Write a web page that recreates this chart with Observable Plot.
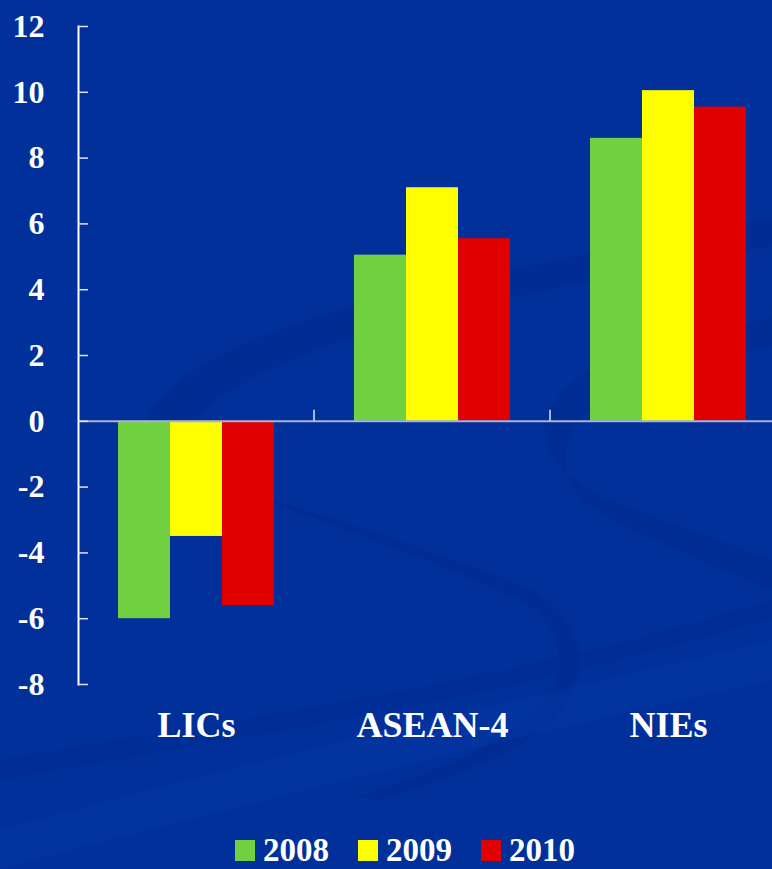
<!DOCTYPE html>
<html>
<head>
<meta charset="utf-8">
<script src="https://cdn.jsdelivr.net/npm/d3@7"></script>
<script src="https://cdn.jsdelivr.net/npm/@observablehq/plot@0.6"></script>
<style>
  html, body { margin: 0; padding: 0; background: #01309b; overflow: hidden; }
  #page { position: relative; width: 772px; height: 869px; overflow: hidden; background: #01309b; }
  #bg, #chart { position: absolute; left: 0; top: 0; }
  #legend {
    position: absolute; left: 235px; top: 834px;
    display: flex; align-items: center;
    font-family: "Liberation Serif", "Times New Roman", serif;
    font-weight: bold; font-size: 33px; color: #fff; line-height: 33px;
  }
  #legend .item { display: flex; align-items: center; margin-right: 29px; }
  #legend .swatch { width: 20px; height: 21px; margin-right: 8px; }
</style>
</head>
<body>
<div id="page">
  <svg id="bg" width="772" height="869" viewBox="0 0 772 869">
    <!-- faint backdrop swooshes -->
    <path d="M140 440 C150 375 250 330 410 292 C520 266 640 244 772 218 L772 246 C640 270 510 296 410 322 C290 352 205 392 182 440 Z" fill="#002a8e" opacity="0.55"/>
    <path d="M772 318 C690 335 610 352 578 378 C540 405 536 440 560 468 C580 488 605 500 640 512 L772 560 L772 590 C700 560 640 535 600 512 C570 495 560 470 568 440 C578 405 640 375 772 345 Z" fill="#002a8e" opacity="0.5"/>
    <path d="M262 496 C360 528 460 560 528 588 C580 615 590 660 568 700 C540 745 470 772 380 800 L360 796 C445 768 520 738 548 696 C570 660 560 622 520 600 C450 568 360 534 262 500 Z" fill="#002a8e" opacity="0.55"/>
    <path d="M0 830 C250 760 520 700 772 640 L772 680 C520 735 260 800 0 869 Z" fill="#0a3aa6" opacity="0.35"/>
    <path d="M0 760 C220 720 480 690 772 600 L772 618 C480 705 230 738 0 780 Z" fill="#002a8e" opacity="0.3"/>
  </svg>
  <div id="chart"></div>
  <div id="legend"></div>
</div>
<script>
// Regions shown on the horizontal axis
const categories = ["LICs", "ASEAN-4", "NIEs"];
// One series per year
const years = ["2008", "2009", "2010"];
const values2008 = [-6.0, 5.05, 8.6];
const values2009 = [-3.5, 7.1, 10.05];
const values2010 = [-5.6, 5.55, 9.55];
const yearColors = ["#70d03f", "#ffff00", "#e00000"];
const yTicks = [-8, -6, -4, -2, 0, 2, 4, 6, 8, 10, 12];

const series = [values2008, values2009, values2010];
const rows = categories.flatMap((category, i) =>
  years.map((year, j) => ({category, year, value: series[j][i]}))
);

const chart = Plot.plot({
  width: 786,
  height: 800,
  marginLeft: 77,
  marginRight: 0,
  marginTop: 26,
  marginBottom: 116,
  style: {
    background: "transparent",
    color: "#ffffff",
    fontFamily: "'Liberation Serif', 'Times New Roman', serif",
    overflow: "visible",
    maxWidth: "none"
  },
  fx: {domain: categories, padding: 0, label: null},
  x: {domain: years, paddingInner: 0, paddingOuter: 0.75, axis: null},
  y: {domain: [-8, 12], label: null},
  color: {domain: years, range: yearColors},
  marks: [
    Plot.barY(rows, {fx: "category", x: "year", y: "value", fill: "year"}),
    Plot.ruleY([0], {stroke: "#a9b3d6", strokeWidth: 2}),
    Plot.frame({anchor: "left", facetAnchor: "left", stroke: "#ffffff", strokeWidth: 2}),
    Plot.axisY({
      ticks: yTicks,
      tickSize: -10,
      tickPadding: 44,
      tickFormat: d => String(d),
      fontSize: 32,
      fontWeight: "bold",
      stroke: "#dde3f3",
      strokeWidth: 1.5,
      label: null
    }),
    Plot.axisFx({
      anchor: "bottom",
      tickSize: 0,
      tickPadding: 27,
      fontSize: 36,
      fontWeight: "bold",
      label: null
    })
  ]
});

// Short ticks on the zero line at the boundaries between region groups
const fxScale = chart.scale("fx");
const yScale = chart.scale("y");
d3.select(chart).append("g")
  .attr("stroke", "#dde3f3")
  .attr("stroke-width", 1.5)
  .selectAll("line")
  .data(categories.slice(1))
  .join("line")
  .attr("x1", d => fxScale.apply(d))
  .attr("x2", d => fxScale.apply(d))
  .attr("y1", yScale.apply(0))
  .attr("y2", yScale.apply(0) - 11);

document.getElementById("chart").append(chart);

// Legend
const legend = d3.select("#legend");
const items = legend.selectAll(".item").data(years).join("div").attr("class", "item");
items.append("div").attr("class", "swatch").style("background", (d, i) => yearColors[i]);
items.append("span").text(d => d);
</script>
</body>
</html>
